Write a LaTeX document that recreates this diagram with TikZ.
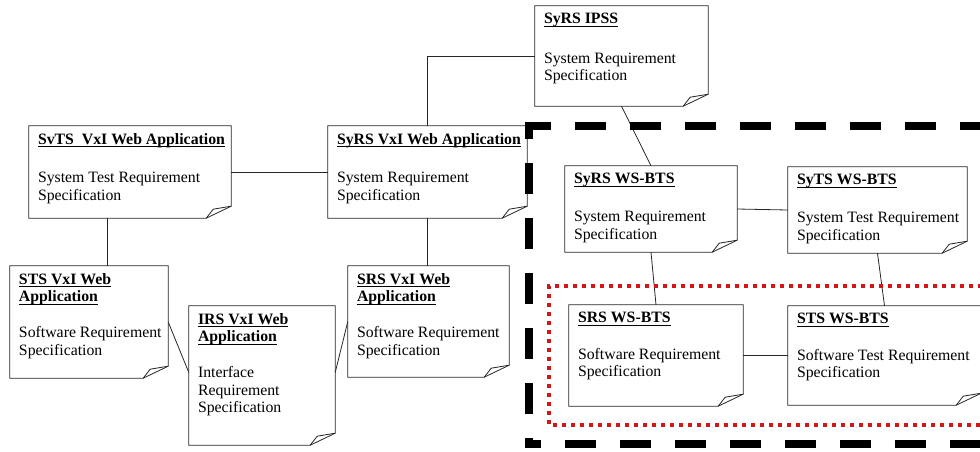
\documentclass[tikz,border=0pt]{standalone}
\usepackage{fontspec}
\setmainfont{Liberation Serif}
\usetikzlibrary{fit,calc}
\definecolor{dotred}{RGB}{208,22,22}

% bold, underlined heading of a document note
\newcommand\doctitle[1]{\setbox0=\hbox{\bfseries #1}\rlap{\rule[-3pt]{\wd0}{0.9pt}}\box0}

\tikzset{
  noteline/.style={draw=black!85, line width=0.8pt, line join=miter},
  notetext/.style={anchor=north west, inner sep=0pt, align=left,
                   font=\fontsize{15.8}{17.5}\selectfont},
  link/.style={draw=black!85, line width=0.8pt},
  scopebox/.style={draw=black, line width=7.5pt, dash pattern=on 31pt off 24pt},
  corebox/.style={draw=dotred, line width=4pt, dash pattern=on 4pt off 5pt},
}

% document note with a folded lower right corner
% #1 name, #2 left, #3 top, #4 right, #5 bottom, #6 text
\newcommand\docnote[6]{%
  \path (#2,#3) coordinate (#1-nw) (#4,#5) coordinate (#1-se);
  \node[fit=(#1-nw)(#1-se), inner sep=0pt] (#1) {};
  \draw[noteline] (#1.north west) -- (#1.north east)
    -- ([yshift=12pt]#1.south east) -- ([xshift=-25pt]#1.south east)
    -- (#1.south west) -- cycle;
  \draw[noteline] ([xshift=-25pt]#1.south east)
    .. controls ([xshift=-22pt,yshift=5pt]#1.south east) .. ([xshift=-18pt,yshift=9pt]#1.south east)
    -- ([yshift=12pt]#1.south east);
  \node[notetext] (#1-text) at ([xshift=9pt,yshift=-7.2pt]#1.north west) {#6};
}

\begin{document}
\begin{tikzpicture}[x=1pt, y=-1pt]
\useasboundingbox (0,0) rectangle (980,452);
\clip (0,0) rectangle (980,452);

\docnote{svts}{29}{126}{231}{218}{\doctitle{SvTS\ \ VxI Web Application}\\[21pt]System Test Requirement\\Specification}
\docnote{syrsvxi}{328}{126}{527}{218}{\doctitle{SyRS VxI Web Application}\\[21pt]System Requirement\\Specification}
\docnote{syrsipss}{535}{6}{708}{106}{\doctitle{SyRS IPSS}\\[22pt]System Requirement\\Specification}
\docnote{stsvxi}{10}{266}{168}{378}{\doctitle{STS VxI Web}\\\doctitle{Application}\\[18.5pt]Software Requirement\\Specification}
\docnote{irs}{189}{306}{335}{445}{\doctitle{IRS VxI Web}\\\doctitle{Application}\\[18.5pt]Interface\\Requirement\\Specification}
\docnote{srsvxi}{348}{266}{509}{377}{\doctitle{SRS VxI Web}\\\doctitle{Application}\\[18.5pt]Software Requirement\\Specification}
\docnote{syrsws}{565}{166}{737}{252}{\doctitle{SyRS WS-BTS}\\[20.5pt]System Requirement\\Specification}
\docnote{sytsws}{788}{167}{967}{253}{\doctitle{SyTS WS-BTS}\\[20.5pt]System Test Requirement\\Specification}
\docnote{srsws}{569}{305}{743}{406}{\doctitle{SRS WS-BTS}\\[19pt]Software Requirement\\Specification}
\docnote{stsws}{788}{306}{981}{405}{\doctitle{STS WS-BTS}\\[19pt]Software Test Requirement\\Specification}

% relations between the documents
\draw[link] (svts.east) -- (syrsvxi.west);
\draw[link] ([xshift=-23pt]svts.south) -- ([xshift=-23pt]svts.south |- stsvxi.north);
\draw[link] (syrsvxi.north) |- (syrsipss.west);
\draw[link] (syrsvxi.south) -- (syrsvxi.south |- srsvxi.north);
\draw[link] (syrsipss.south) -- (syrsws.north);
\draw[link] (syrsws.east) -- (sytsws.west);
\draw[link] (syrsws.south) -- (srsws.north);
\draw[link] (sytsws.south) -- (stsws.north);
\draw[link] (srsws.east) -- (stsws.west);
\draw[link] (stsvxi.east) -- ([yshift=3pt]irs.west);
\draw[link] ([yshift=3pt]irs.east) -- (srsvxi.west);

% WS-BTS scope (black dashed frame)
\draw[scopebox, dash phase=9pt] (529,126) -- (1000,126);
\draw[scopebox, dash phase=18pt] (529,126) -- (529,444);
\draw[scopebox, dash phase=19pt] (529,444) -- (1000,444);
\fill[black] (525.25,122.25) rectangle (532.75,129.75);
\fill[black] (525.25,440.25) rectangle (532.75,447.75);

% software level (red dotted frame)
\draw[corebox] (1000,285.5) -- (549,285.5) -- (549,424.5) -- (1000,424.5);
\end{tikzpicture}
\end{document}
